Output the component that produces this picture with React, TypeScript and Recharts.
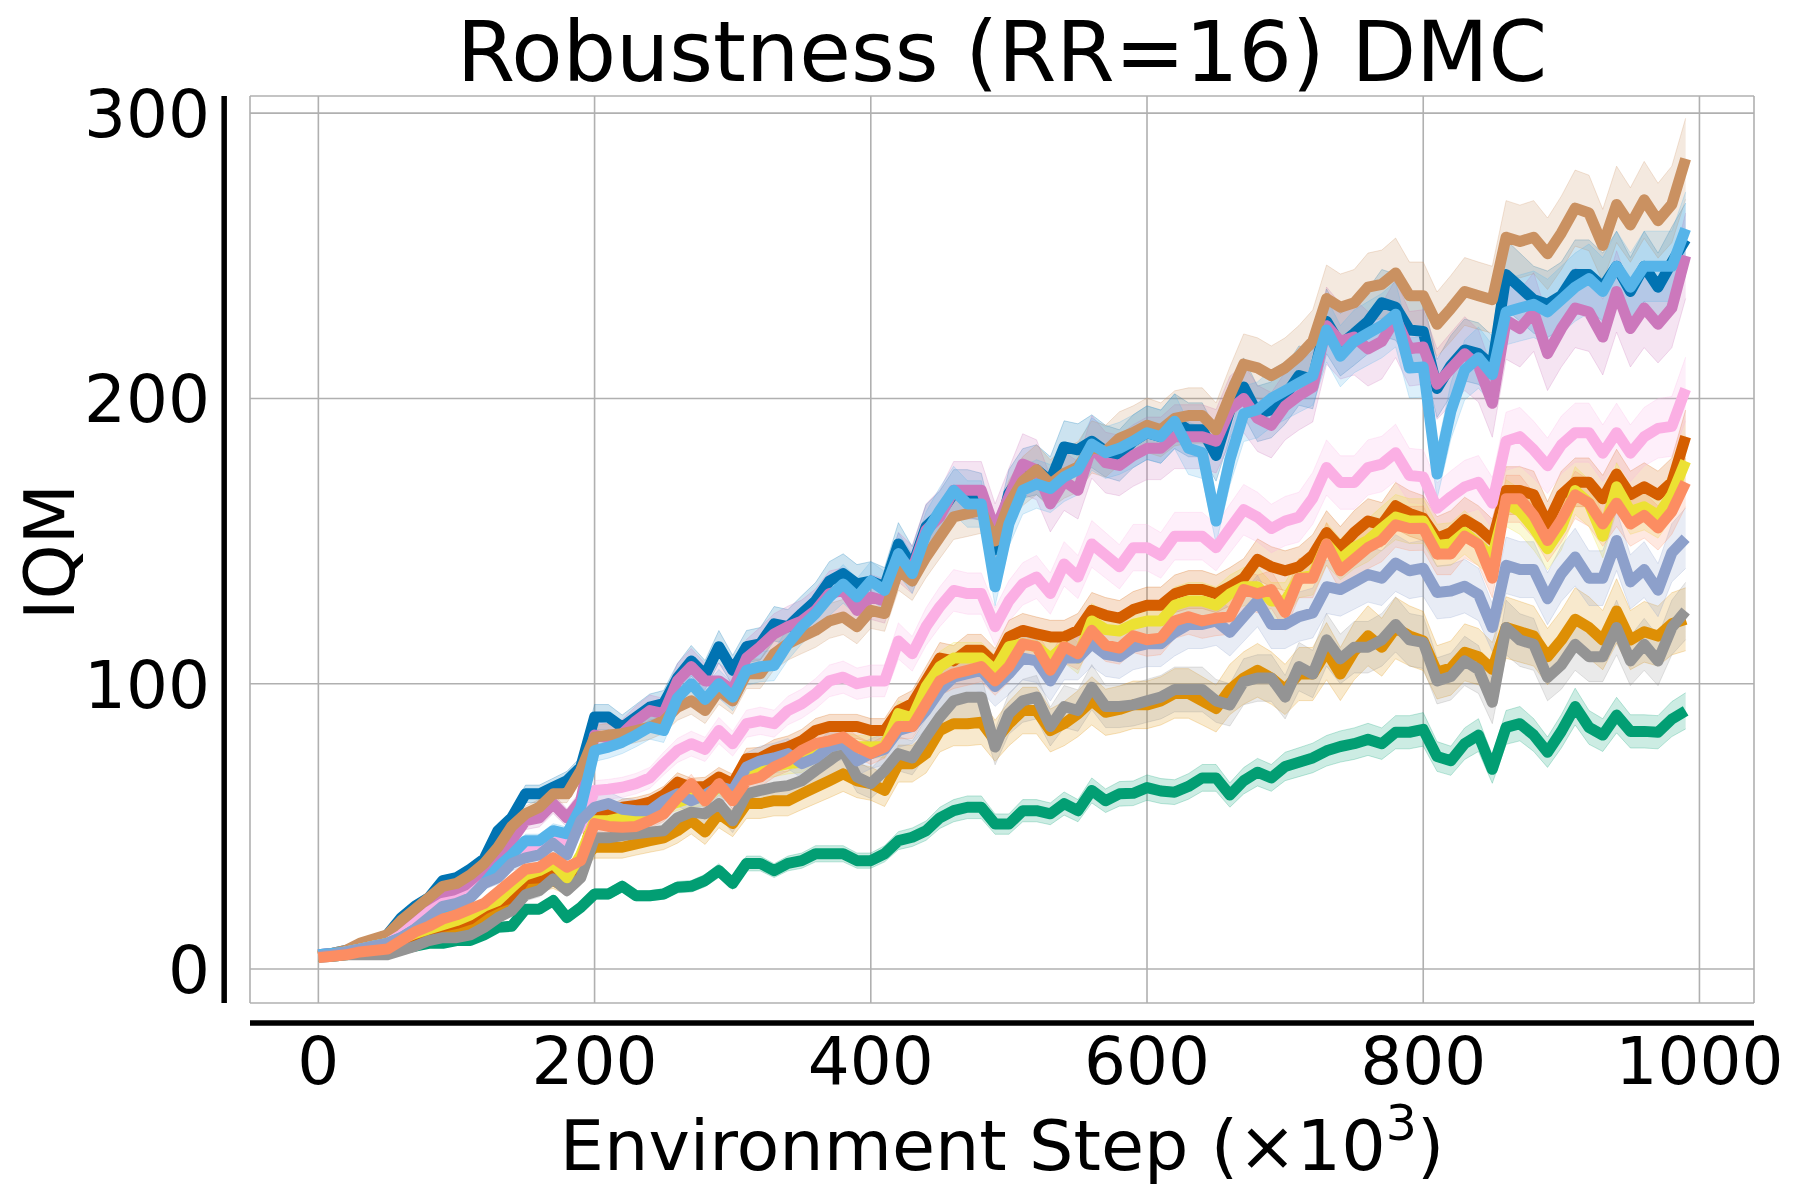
import React from 'react'
import {
  ComposedChart, Line, Area, XAxis, YAxis, CartesianGrid, ReferenceLine,
} from 'recharts'

// environment step (x10^3)
const steps = Array.from({ length: 100 }, (_, i) => i * 10)

const blue = [
  5, 5.5, 6.5, 8, 10, 12, 18, 22, 25, 31,
  32, 35, 38.6, 48.5, 53, 61.4, 61.4, 63.7, 66, 70.8,
  88.3, 88.3, 84.8, 88.3, 91.8, 93, 102, 108, 103, 113,
  104.7, 113, 114, 121, 120, 124.6, 129, 136, 138.6, 135,
  136, 134, 149, 141, 155, 159.6, 166.7, 166.7, 165.5, 147,
  166.7, 173.7, 175, 171, 183, 182, 185, 181.5, 180, 185,
  188, 186.6, 192, 189, 189, 180, 196, 204, 194.6, 196,
  201, 208, 206.7, 227, 218.8, 222.8, 227, 233.5, 232, 224,
  223.5, 203.5, 211.5, 217, 215.7, 211.4, 243.4, 239, 234.6, 233,
  236, 243.4, 243.4, 239, 246.3, 237.5, 246.3, 239, 247.7, 255.7,
]
const orange = [
  4.5, 5, 5.5, 6, 6.5, 7, 8.5, 10.5, 13, 13.5,
  14, 15, 17.5, 20.5, 24, 30, 30, 31, 28.6, 38,
  42.7, 42.7, 42.7, 43.9, 45, 46, 48.5, 52, 48, 54.4,
  51, 58, 58, 59, 59, 61.4, 63.7, 66, 68.4, 66,
  65, 62.6, 72, 72, 75.5, 83.6, 86, 86, 86.5, 80,
  86, 90.6, 90.6, 83.6, 86, 89.5, 94, 90, 91, 92.6,
  92.6, 94, 96.6, 96.6, 94, 91.3, 98, 102, 104.7, 102,
  98, 103.4, 103.4, 111.4, 103.4, 111.4, 116.8, 112.8, 119.5, 116.8,
  115, 104, 105.5, 111, 109.5, 105, 119.7, 118.2, 116.7, 109.5,
  115.3, 122.6, 119.7, 115.3, 125.5, 115.3, 118.2, 116.7, 121, 122.6,
]
const green = [
  4.5, 4.5, 5, 5.5, 6, 6.5, 7, 8, 9, 9,
  10, 10, 12, 14.6, 15, 21, 21, 24, 18, 21.6,
  26.3, 26.3, 29, 25.7, 25.7, 26.3, 28.7, 29, 31, 34.5,
  30, 37, 37, 34.5, 37, 38, 40.4, 40.4, 40.4, 38,
  38, 40.4, 45, 46.2, 48.5, 53, 55.5, 56.7, 56.7, 50.8,
  50.8, 55.5, 55.5, 54.4, 58, 55.5, 62.6, 59, 61.4, 61.6,
  63.6, 62.4, 62, 64, 67, 67, 61, 66, 69, 67,
  71, 72.5, 74, 76.5, 78, 79, 80.5, 79, 83, 83,
  84, 74.5, 73, 79, 82, 70, 84.7, 86, 82, 76,
  83.3, 92, 84.7, 82, 89, 83.3, 83.3, 83, 87.6, 90.5,
]
const vermillion = [
  4.5, 5, 6, 7, 8, 9, 10, 12, 13, 15,
  16, 17.5, 21, 23.4, 25, 31.6, 32, 35.7, 32, 36.8,
  55, 54.4, 56.7, 57.3, 58.5, 61, 65.5, 63.7, 64, 67.3,
  65, 73.7, 74, 76.6, 77.8, 80, 83.6, 85, 85, 85,
  83.6, 83.6, 90.6, 93, 101, 109, 108, 111.7, 111.7, 107,
  116.4, 118.7, 117.5, 116.4, 116.4, 118.7, 125.7, 124, 123, 126,
  127.5, 127.5, 131.5, 133, 133, 131.5, 134, 137, 143.6, 141,
  139.6, 141, 145, 153, 147.7, 153, 157, 155.7, 162.4, 159.7,
  158, 151, 153, 157.5, 154.6, 150.2, 167.7, 167.7, 166.2, 156,
  166.2, 170.6, 170.6, 164.8, 173.5, 166.2, 169, 166.2, 170.6, 186.6,
]
const purple = [
  5, 5.5, 6, 7.5, 9, 10.5, 15, 19, 23, 26,
  27.5, 30, 33, 38, 45, 52, 53, 58, 53, 59,
  82, 81, 82.5, 87, 90.6, 89.5, 101, 106, 101, 101,
  97.7, 109, 113, 117.5, 120, 122, 125.7, 131.6, 132.7, 125.7,
  130.4, 129, 144.4, 140, 153.8, 158.5, 167.8, 167.8, 167.8, 153.8,
  165.5, 177, 175, 163, 171, 167.8, 183, 177.5, 176.5, 180,
  182.5, 182.5, 186.6, 186.6, 186.6, 185, 196, 200, 193, 190.6,
  197.3, 201, 204, 225.5, 220, 221.5, 217.4, 220, 228, 217.4,
  218, 205, 210.4, 215.7, 211.4, 198.3, 227.4, 224.5, 230.3, 215.7,
  224.5, 231.7, 230.3, 221.5, 237.5, 224.5, 231.7, 226, 231.7, 250,
]
const brown = [
  4.5, 5.5, 6.5, 9, 10.5, 12, 17, 21, 25, 29,
  30, 33, 37, 42.7, 50, 54.4, 56.7, 61.4, 61.4, 69.6,
  81.3, 82, 82.5, 83.6, 84.8, 87, 91.8, 94, 90.6, 97.7,
  94, 103.5, 103.5, 110.5, 114, 116.4, 118.7, 122, 123.4, 120,
  125.7, 124.6, 139.8, 136, 144.4, 151.5, 158.5, 159.6, 160.8, 150,
  163, 171, 175, 170, 173.7, 176, 183, 181.5, 186, 188,
  190.6, 189, 193, 194, 194, 189, 201, 212, 210.7, 208,
  210.7, 214.8, 220, 235, 232, 233.5, 239, 240, 244, 236,
  236, 226, 231.5, 237.5, 236, 234.6, 256.5, 255, 256.5, 250.7,
  258, 266.7, 265, 253.6, 268, 260.8, 269.6, 262.3, 268, 284,
]
const lightPink = [
  4.5, 5, 6, 7, 8, 9, 12, 16, 20, 23,
  24, 26, 30, 33, 38, 41.5, 44, 46, 45, 49.7,
  62.6, 63, 63.7, 65, 67, 72, 76.6, 79, 77, 83.6,
  79, 86, 87, 86, 90.6, 93, 96.5, 101, 102.3, 100,
  101, 101, 115, 110.5, 120, 127, 132.7, 131.6, 131.6, 120,
  129, 135, 137.4, 131.6, 142, 137.4, 149, 145, 141, 147.7,
  147.7, 145, 151.7, 151.7, 151.7, 147.7, 154.4, 161, 158.4, 154.4,
  157, 158.4, 165, 175.8, 170.5, 170.5, 175.8, 177, 181, 173,
  172.5, 161.5, 165.5, 169, 170.6, 163.3, 185, 186.6, 182, 176.4,
  183.7, 188, 188, 180.8, 188, 180.8, 186.6, 189.5, 190.2, 203.3,
]
const gray = [
  4, 4.5, 5, 5, 5, 5, 6.5, 8, 10, 11,
  11, 12, 14.6, 18, 20.5, 26, 27.5, 31.6, 27.5, 32,
  46, 46, 46.8, 47.4, 48, 48.5, 53, 55, 54.4, 58,
  52, 61.4, 62.6, 63.7, 64.3, 66, 69.6, 73, 76.6, 67.3,
  65, 69.6, 75.5, 74, 81.3, 88.3, 94, 95.3, 95.3, 77.8,
  89.5, 94, 95.3, 85, 92, 90.6, 98.8, 92, 92, 92.6,
  94, 95.3, 98, 98, 98, 94, 92.6, 100.7, 102, 102,
  95.3, 106, 103.4, 115.4, 108.7, 112.8, 112.8, 115.4, 120.8, 115.4,
  114.5, 101, 102.5, 108, 105, 93.5, 119.7, 115.3, 113.8, 102.2,
  106.6, 113.8, 109.5, 109.5, 119.7, 108, 113.8, 108, 119.7, 125.5,
]
const yellow = [
  4.5, 5, 6, 7, 8, 9, 10.5, 12.5, 14, 15.5,
  17, 19, 22, 24, 28.6, 33, 34.5, 37, 32, 40,
  52, 52, 53, 52, 53.5, 57, 58.5, 60, 60, 64,
  61, 68, 70, 71, 72, 72.5, 76, 78, 79, 78,
  77.8, 78, 89.5, 88, 99, 106, 109, 109, 109, 104.7,
  113, 114, 113, 109, 113, 109, 122, 119, 118.5, 120.8,
  122, 122, 127.5, 129, 129, 127.5, 131.5, 134, 134, 129,
  129, 137, 138, 149, 143.6, 147.7, 150.3, 154.4, 158.4, 157,
  157, 148.5, 149, 153, 148.8, 144.4, 163.3, 160.4, 154.6, 147.3,
  154.6, 167.7, 163.3, 151.7, 169, 160.4, 162, 159, 166.2, 178,
]
const lightBlue = [
  5, 5.5, 6, 7, 8, 9, 11, 14, 17, 20,
  22, 25, 30, 35.7, 40, 45, 45, 48.5, 47.4, 56.7,
  76.6, 77.8, 79.5, 82, 84.8, 83.6, 95, 100, 94.5, 100,
  95.3, 104.7, 106, 106.4, 114, 120, 124.6, 130.4, 135, 130.4,
  136, 132.7, 145.6, 138.6, 152.6, 160.8, 167.8, 163, 163, 134,
  156, 167.8, 170, 168.4, 172.5, 175, 184, 181, 182.5, 185,
  188, 186.6, 192, 182.5, 181, 157, 178.5, 194.6, 196, 200,
  202.7, 205.4, 208, 224, 214.8, 220, 222.8, 225.5, 229.5, 210.7,
  211, 173.5, 195.5, 210, 214.3, 208.4, 230.3, 231.7, 233, 230.3,
  234.6, 239, 242, 237.5, 246.3, 239, 246.3, 246.3, 246.3, 259.4,
]
const slate = [
  4.5, 5, 6, 7, 8, 9, 11, 14, 18, 22,
  23, 25, 30, 32, 37, 39, 40, 44, 40, 52,
  56.7, 58, 56, 55.5, 55.5, 59, 61.4, 59, 61, 64,
  62.6, 70.8, 73, 74, 75.5, 72, 74, 77.8, 79, 73,
  75.5, 77, 83.6, 85, 90.6, 97.7, 102.3, 103.5, 104.7, 99,
  103.5, 109, 108, 101, 109, 109, 114, 110.3, 109.5, 112.8,
  114, 114, 118, 120.8, 120.8, 122, 118, 123.5, 129, 120.8,
  120.8, 123.5, 124.8, 134, 133, 135.6, 138.3, 137, 142.3, 139.6,
  140.5, 132, 132.5, 134.2, 131.3, 119.7, 141.5, 140, 140, 129.8,
  138.6, 144.4, 137, 137, 150.2, 135.7, 140, 132.8, 145.9, 151,
]
const salmon = [
  4, 4.5, 5, 6, 6.5, 7, 10, 13, 15, 17.5,
  19, 21, 23, 27, 31, 35, 35.7, 39, 35.7, 38,
  51, 50, 49.7, 50, 52, 54.4, 60, 65, 59, 65,
  59, 66, 67.3, 70.8, 73, 76.6, 79, 80, 81.3, 77.8,
  75.5, 77.8, 85, 85, 93, 101, 103.5, 104.7, 106, 101,
  106, 114, 113, 104.7, 113, 110.5, 118.7, 113.5, 112.5, 116.8,
  115.4, 116, 122, 123.5, 122, 123, 123.5, 133, 131.5, 133,
  125, 137, 137, 149, 139.6, 143.6, 147.7, 150.3, 155.7, 154.4,
  154.5, 145.5, 145.5, 151.7, 148.8, 137, 164.8, 164.8, 159, 150.2,
  157.5, 166.2, 163.3, 156, 163.3, 156, 159, 154.6, 160.4, 170.6,
]

// drawing order, colour, and half-width of the shaded band as a share of the mean
const series = [
  { values: blue, color: '#0173b2', spread: 0.05 },
  { values: orange, color: '#de8f05', spread: 0.09 },
  { values: green, color: '#029e73', spread: 0.07 },
  { values: vermillion, color: '#d55e00', spread: 0.05 },
  { values: purple, color: '#cc78bc', spread: 0.06 },
  { values: brown, color: '#ca9161', spread: 0.05 },
  { values: lightPink, color: '#fbafe4', spread: 0.055 },
  { values: gray, color: '#949494', spread: 0.08 },
  { values: yellow, color: '#ece133', spread: 0.05 },
  { values: lightBlue, color: '#56b4e9', spread: 0.05 },
  { values: slate, color: '#8da0cb', spread: 0.07 },
  { values: salmon, color: '#fc8d62', spread: 0.05 },
]

const xTicks = [0, 200, 400, 600, 800, 1000]
const yTicks = [0, 100, 200, 300]

const FONT = 'DejaVu Sans'

const data = steps.map((x, i) => {
  const row: Record<string, number | number[]> = { x }
  series.forEach((s, k) => {
    const v = s.values[i]
    const h = Math.max(1, v * s.spread)
    row[`s${k}`] = v
    row[`b${k}`] = [v - h, v + h]
  })
  return row
})

const XTick = ({ x, y, payload }: any) => (
  <text x={x} y={y + 81} textAnchor="middle" fontSize={66} fontFamily={FONT} fill="#000">
    {payload.value}
  </text>
)

const YTick = ({ x, y, payload }: any) => (
  <text x={x - 40} y={y + 24} textAnchor="end" fontSize={66} fontFamily={FONT} fill="#000">
    {payload.value}
  </text>
)

export default function App() {
  return (
    <div style={{ position: 'absolute', left: 0, top: 0, width: 1800, height: 1200, background: '#fff' }}>
      <ComposedChart
        width={1800}
        height={1200}
        data={data}
        margin={{ top: 96, right: 46, left: 150, bottom: 97 }}
      >
        <CartesianGrid stroke="#b0b0b0" strokeWidth={1.6} />
        <XAxis
          type="number"
          dataKey="x"
          domain={[-49.5, 1039.5]}
          ticks={xTicks}
          interval={0}
          allowDataOverflow
          axisLine={false}
          tickLine={false}
          tickSize={0}
          tickMargin={0}
          height={100}
          tick={<XTick />}
        />
        <YAxis
          type="number"
          domain={[-11.9, 306]}
          ticks={yTicks}
          interval={0}
          allowDataOverflow
          axisLine={false}
          tickLine={false}
          tickSize={0}
          tickMargin={0}
          width={100}
          tick={<YTick />}
        />
        {series.map((s, k) => [
          <Area
            key={`b${k}`}
            type="linear"
            dataKey={`b${k}`}
            stroke={s.color}
            strokeOpacity={0.25}
            strokeWidth={1}
            fill={s.color}
            fillOpacity={0.2}
            dot={false}
            activeDot={false}
            isAnimationActive={false}
          />,
          <Line
            key={`s${k}`}
            type="linear"
            dataKey={`s${k}`}
            stroke={s.color}
            strokeWidth={11}
            strokeLinejoin="round"
            dot={false}
            activeDot={false}
            isAnimationActive={false}
          />,
        ])}
        {/* offset spines, drawn just outside the plot area */}
        <ReferenceLine y={-18.9} stroke="#000" strokeWidth={5.5} ifOverflow="visible" />
        <ReferenceLine x={-68.2} stroke="#000" strokeWidth={5.5} ifOverflow="visible" />
      </ComposedChart>
      <svg
        width={1800}
        height={1200}
        style={{ position: 'absolute', left: 0, top: 0, pointerEvents: 'none' }}
        fontFamily={FONT}
      >
        <text x={1002} y={81} textAnchor="middle" fontSize={84} fill="#000">
          Robustness (RR=16) DMC
        </text>
        <text x={1002} y={1170} textAnchor="middle" fontSize={70} fill="#000">
          Environment Step (×10
          <tspan dy={-30} fontSize={49}>3</tspan>
          <tspan dy={30}>)</tspan>
        </text>
        <text x={74} y={552} textAnchor="middle" fontSize={70} fill="#000" transform="rotate(-90 74 552)">
          IQM
        </text>
      </svg>
    </div>
  )
}
